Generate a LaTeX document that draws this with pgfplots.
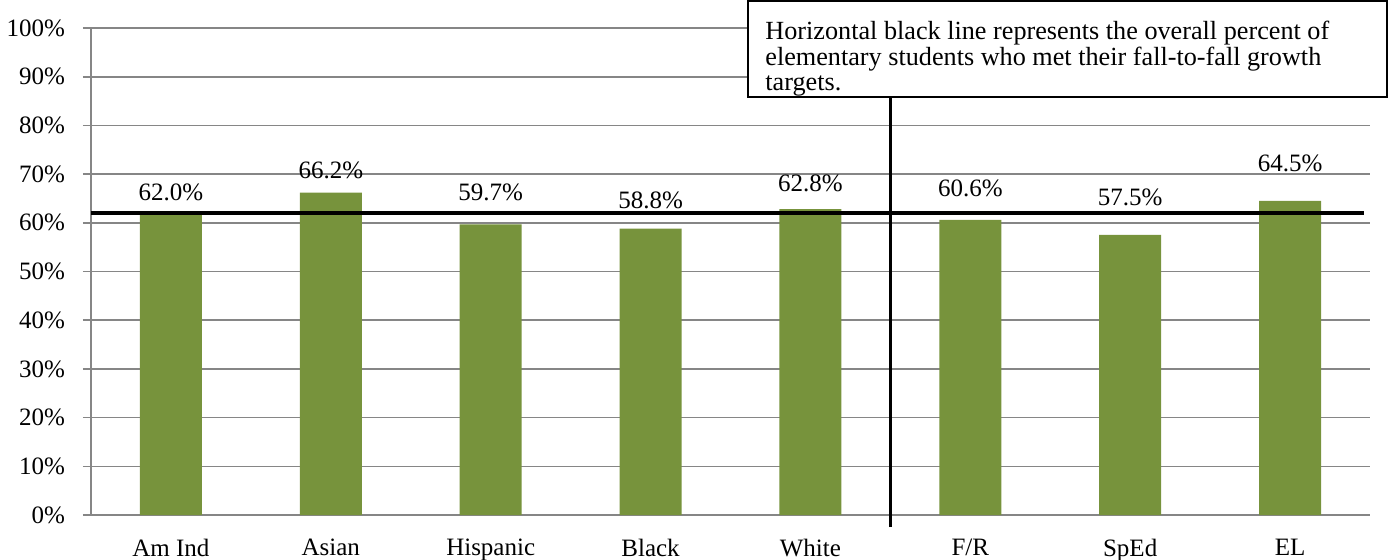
\documentclass[border=0pt]{standalone}
\usepackage{pgfplots}
\pgfplotsset{compat=1.18}
\usepackage{fontspec}
\setmainfont{Liberation Serif}
\definecolor{barg}{RGB}{119,147,60}
\definecolor{gridg}{RGB}{134,134,134}

\pgfplotstableread{
x y
0 62.0
1 66.2
2 59.7
3 58.8
4 62.8
5 60.6
6 57.5
7 64.5
}\bars

% label positions (as placed in the original chart)
\pgfplotstableread{
x y lab
0 66.3 62.0\%
1 70.8 66.2\%
2 66.3 59.7\%
3 64.7 58.8\%
4 68.0 62.8\%
5 67.1 60.6\%
6 65.3 57.5\%
7 72.3 64.5\%
}\labels

\begin{document}
\begin{tikzpicture}
\useasboundingbox (-45.5pt,-22pt) rectangle (650pt,257.5pt);
\begin{axis}[
    at={(0,0)}, anchor=south west,
    scale only axis,
    width=639.5pt, height=243.5pt,
    xmin=-0.5, xmax=7.5,
    ymin=0, ymax=100,
    clip=false,
    axis x line=bottom, axis y line=left,
    axis line style={-, gridg, line width=0.8pt},
    xtick={0,...,7},
    xticklabels={Am Ind, Asian, Hispanic, Black, White, F/R, SpEd, EL},
    major x tick style={draw=none},
    extra x ticks={-0.5,0.5,...,7.5},
    extra x tick labels={},
    extra x tick style={tick style={gridg, line width=0.8pt}, major tick length=4pt, tick align=outside},
    ytick={0,10,...,100},
    yticklabels={0\%,10\%,20\%,30\%,40\%,50\%,60\%,70\%,80\%,90\%,100\%},
    ymajorgrids=true,
    grid style={gridg, line width=0.8pt},
    y tick style={gridg, line width=0.8pt},
    major tick length=4pt,
    tick align=outside,
    tick label style={font=\fontsize{12.5}{15}\selectfont, black},
    xticklabel style={yshift=-4.5pt},
    yticklabel style={xshift=-5.5pt},
]
\addplot[ybar, bar width=31pt, fill=barg, draw=none] table[x=x, y=y] {\bars};
\addplot[only marks, mark=none, nodes near coords, point meta=explicit symbolic,
    every node near coord/.style={font=\fontsize{12.5}{15}\selectfont, anchor=center}]
    table[x=x, y=y, meta=lab] {\labels};
% overall percent
\addplot[black, line width=1.6pt] coordinates {(-0.5,62.0) (7.46,62.0)};
% separator
\addplot[black, line width=1.6pt] coordinates {(4.5,-2.5) (4.5,86)};
\end{axis}
\draw[black, line width=0.8pt, fill=white] (328.5pt,209pt) rectangle (648pt,257.1pt);
\node[anchor=north west, align=left, inner sep=0pt,
      font=\fontsize{13.1}{12.6}\selectfont] at (337pt,247pt)
  {Horizontal black line represents the overall percent of\\
   elementary students who met their fall-to-fall growth\\
   targets.};
\end{tikzpicture}
\end{document}
